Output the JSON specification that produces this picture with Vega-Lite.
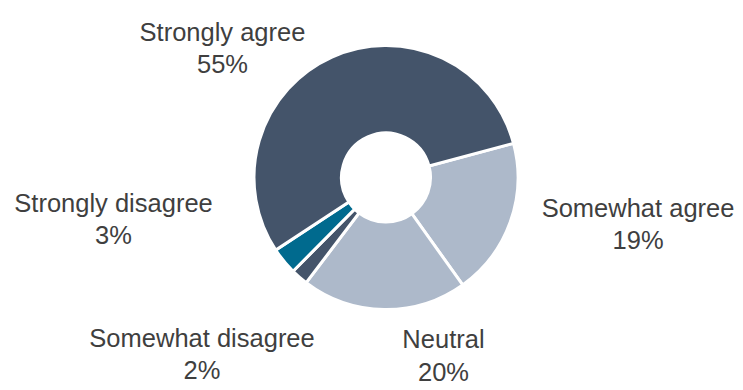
{
  "$schema": "https://vega.github.io/schema/vega-lite/v6.json",
  "width": 714,
  "height": 355,
  "autosize": "none",
  "padding": {"left": 29, "top": 0, "right": 0, "bottom": 35},
  "background": "white",
  "view": {"stroke": null},
  "data": {
    "values": [
      {"category": "Somewhat agree", "value": 19.3, "label": "Somewhat agree\n19%", "order": 1},
      {"category": "Neutral", "value": 20.2, "label": "Neutral\n20%", "order": 2},
      {"category": "Somewhat disagree", "value": 2.1, "label": "Somewhat disagree\n2%", "order": 3},
      {"category": "Strongly disagree", "value": 3.3, "label": "Strongly disagree\n3%", "order": 4},
      {"category": "Strongly agree", "value": 55.1, "label": "Strongly agree\n55%", "order": 5}
    ]
  },
  "encoding": {
    "theta": {"field": "value", "type": "quantitative", "stack": true, "scale": {"domain": [0, 100], "range": [1.309, 7.5922]}},
    "order": {"field": "order", "type": "quantitative"}
  },
  "layer": [
    {
      "mark": {"type": "arc", "innerRadius": 44.5, "outerRadius": 132, "stroke": "white", "strokeWidth": 3},
      "encoding": {
        "color": {
          "field": "category", "type": "nominal", "legend": null,
          "scale": {
            "domain": ["Somewhat agree", "Neutral", "Somewhat disagree", "Strongly disagree", "Strongly agree"],
            "range": ["#ADB9CA", "#ADB9CA", "#44546A", "#006A8E", "#44546A"]
          }
        }
      }
    },
    {
      "mark": {"type": "text", "radius": 200, "dx": 63.8, "dy": -28.4, "font": "Liberation Sans", "fontSize": 25.5, "lineBreak": "\n", "lineHeight": 32, "align": "center", "baseline": "alphabetic", "color": "#3f3f3f"},
      "encoding": {"text": {"condition": {"test": "datum.category === 'Somewhat agree'", "field": "label"}, "value": ""}}
    },
    {
      "mark": {"type": "text", "radius": 200, "dx": 60.4, "dy": -29.2, "font": "Liberation Sans", "fontSize": 25.5, "lineBreak": "\n", "lineHeight": 33, "align": "center", "baseline": "alphabetic", "color": "#3f3f3f"},
      "encoding": {"text": {"condition": {"test": "datum.category === 'Neutral'", "field": "label"}, "value": ""}}
    },
    {
      "mark": {"type": "text", "radius": 200, "dx": -52.8, "dy": 18.2, "font": "Liberation Sans", "fontSize": 25.5, "lineBreak": "\n", "lineHeight": 32, "align": "center", "baseline": "alphabetic", "color": "#3f3f3f"},
      "encoding": {"text": {"condition": {"test": "datum.category === 'Somewhat disagree'", "field": "label"}, "value": ""}}
    },
    {
      "mark": {"type": "text", "radius": 200, "dx": -117.7, "dy": -92.5, "font": "Liberation Sans", "fontSize": 25.5, "lineBreak": "\n", "lineHeight": 32, "align": "center", "baseline": "alphabetic", "color": "#3f3f3f"},
      "encoding": {"text": {"condition": {"test": "datum.category === 'Strongly disagree'", "field": "label"}, "value": ""}}
    },
    {
      "mark": {"type": "text", "radius": 200, "dx": -81.6, "dy": 46, "font": "Liberation Sans", "fontSize": 25.5, "lineBreak": "\n", "lineHeight": 32, "align": "center", "baseline": "alphabetic", "color": "#3f3f3f"},
      "encoding": {"text": {"condition": {"test": "datum.category === 'Strongly agree'", "field": "label"}, "value": ""}}
    }
  ]
}
